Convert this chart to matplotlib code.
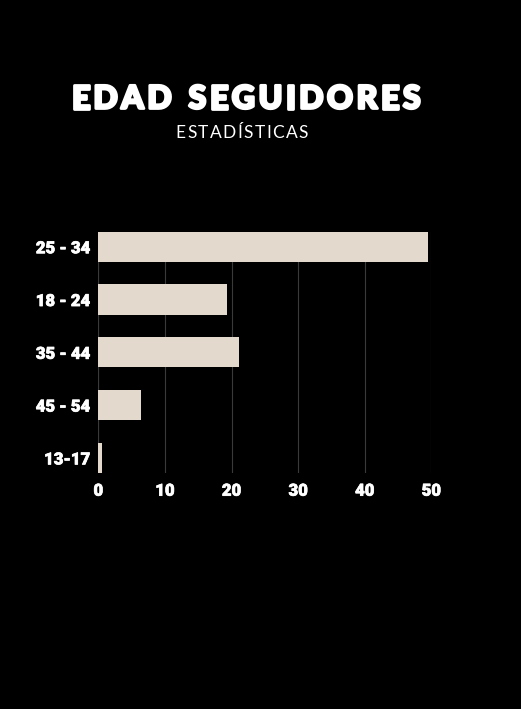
import matplotlib
matplotlib.use("Agg")
import matplotlib.pyplot as plt
import matplotlib.patheffects as pe

categories = ["25 - 34", "18 - 24", "35 - 44", "45 - 54", "13-17"]
values = [49.5, 19.3, 21.2, 6.4, 0.6]
xticks = [0, 10, 20, 30, 40, 50]
title = "EDAD SEGUIDORES"
subtitle = "ESTADÍSTICAS"

bar_color = "#e3d9cc"
W, H = 521, 709
fig = plt.figure(figsize=(W / 100, H / 100), dpi=100, facecolor="black")
ax = fig.add_axes([0.1887, 0.3329, 0.8278 - 0.1887, 0.6732 - 0.3329])
ax.set_facecolor("black")

ypos = list(range(len(categories)))
ax.barh(ypos, values, height=0.57, color=bar_color, zorder=3)
ax.set_ylim(len(categories) - 1 + 0.285, -0.285)
ax.set_xlim(0, 50)
ax.set_xticks(xticks)
ax.set_yticks(ypos)
ax.set_yticklabels(categories)
ax.xaxis.grid(True, color="#3a3a3a", linewidth=0.8, zorder=0)
ax.axvline(0, color="#3a3a3a", linewidth=0.8, zorder=1)
for s in ax.spines.values():
    s.set_visible(False)
ax.tick_params(axis="both", length=0, colors="white")
ax.tick_params(axis="y", pad=6)
ax.tick_params(axis="x", pad=7)
for lab in ax.get_xticklabels() + ax.get_yticklabels():
    lab.set_fontfamily("Roboto")
    lab.set_fontweight("black")
    lab.set_fontsize(12)
    lab.set_color("white")
    lab.set_path_effects([pe.withStroke(linewidth=0.5, foreground="white")])

renderer = fig.canvas.get_renderer()


def spaced_text(s, cx, cy, spacing_px, effects=None, **kw):
    widths = []
    for ch in s:
        t = fig.text(0, 0, ch if ch != " " else "a", **kw)
        w = t.get_window_extent(renderer).width
        if ch == " ":
            w *= 0.6
        widths.append(w)
        t.remove()
    total = sum(widths) + spacing_px * (len(s) - 1)
    x = cx - total / 2
    for ch, w in zip(s, widths):
        if ch != " ":
            t = fig.text(x / W, cy / H, ch, ha="left", va="center", **kw)
            if effects:
                t.set_path_effects(effects)
        x += w + spacing_px


spaced_text(title, 246, H - 99, 3.6,
            effects=[pe.withStroke(linewidth=2.0, foreground="white")],
            color="white", fontfamily="Lato", fontweight="black", fontsize=23)
spaced_text(subtitle, 242, H - 133, 1.4, color="white", fontfamily="Lato",
            fontsize=12.5)

fig.savefig("out.png", dpi=100, facecolor="black")
